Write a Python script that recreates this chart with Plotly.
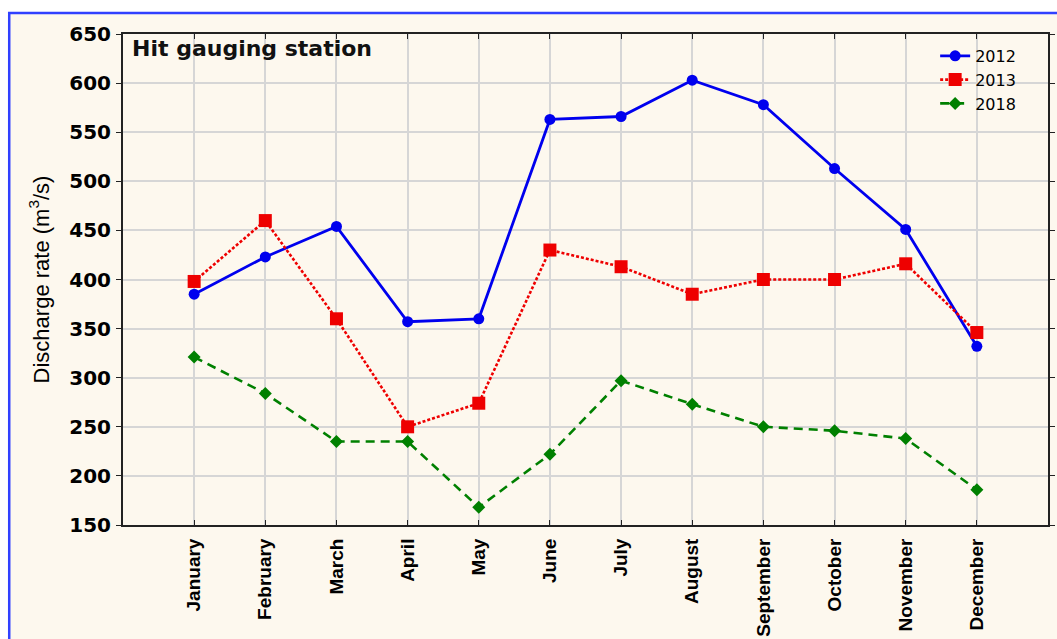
import plotly.graph_objects as go

months = ["January", "February", "March", "April", "May", "June", "July",
          "August", "September", "October", "November", "December"]
y2012 = [385, 423, 454, 357, 360, 563, 566, 603, 578, 513, 451, 332]
y2013 = [398, 460, 360, 250, 274, 430, 413, 385, 400, 400, 416, 346]
y2018 = [321, 284, 235, 235, 168, 222, 297, 273, 250, 246, 238, 186]
yticks = [150, 200, 250, 300, 350, 400, 450, 500, 550, 600, 650]

fig = go.Figure()
fig.add_trace(go.Scatter(x=months, y=y2012, name="2012", mode="lines+markers",
                         line=dict(color="#0000ee", width=2.8),
                         marker=dict(symbol="circle", size=11, color="#0000ee")))
fig.add_trace(go.Scatter(x=months, y=y2013, name="2013", mode="lines+markers",
                         line=dict(color="#ee0000", width=2.6, dash="3px,2px"),
                         marker=dict(symbol="square", size=13, color="#ee0000")))
fig.add_trace(go.Scatter(x=months, y=y2018, name="2018", mode="lines+markers",
                         line=dict(color="#008000", width=2.6, dash="9px,6px"),
                         marker=dict(symbol="diamond", size=10, color="#008000")))

fig.update_layout(
    width=1057, height=639,
    margin=dict(l=123, r=2, t=34, b=114),
    paper_bgcolor="white",
    plot_bgcolor="white",
    font=dict(family="Liberation Sans, Arial", color="black"),
    showlegend=True,
    legend=dict(x=0.878, y=0.99, xanchor="left", yanchor="top",
                bgcolor="rgba(0,0,0,0)", font=dict(size=16, family="DejaVu Sans"),
                tracegroupgap=0, itemwidth=30),
    xaxis=dict(type="category", range=[-1, 12], tickangle=-90,
               tickfont=dict(size=19, family="Liberation Sans, Arial", weight="bold"),
               showgrid=True, gridcolor="#d6d6d6", gridwidth=1.5,
               showline=True, linecolor="#222", linewidth=2, mirror="ticks",
               ticks="inside", ticklen=5, tickcolor="#222", zeroline=False,
               ticklabelstandoff=4),
    yaxis=dict(range=[150, 650], tickvals=yticks,
               tickfont=dict(size=20, family="DejaVu Sans", weight="bold"),
               showgrid=True, gridcolor="#d6d6d6", gridwidth=1.5,
               showline=True, linecolor="#222", linewidth=2, mirror="ticks",
               ticks="outside", ticklen=5, tickcolor="#222", zeroline=False,
               ticklabelstandoff=1,
               title=dict(text="Discharge rate (m<sup>3</sup>/s)",
                          font=dict(size=22, family="Liberation Sans, Arial"),
                          standoff=14)),
)

fig.add_annotation(text="<b>Hit gauging station</b>", xref="paper", yref="paper",
                   x=0.008, y=1.0, xanchor="left", yanchor="top", showarrow=False,
                   font=dict(size=22, color="#111", family="DejaVu Sans"))

# cream page panel with blue border
fig.add_shape(type="rect", xref="paper", yref="paper",
              x0=-0.123, y0=-0.3, x1=1.03, y1=1.043,
              line=dict(color="#3040ff", width=2.5), fillcolor="#fdf8ee", layer="below")

fig.write_html("out.html", config={"displayModeBar": False},
               post_script="document.body.style.margin='0';")
